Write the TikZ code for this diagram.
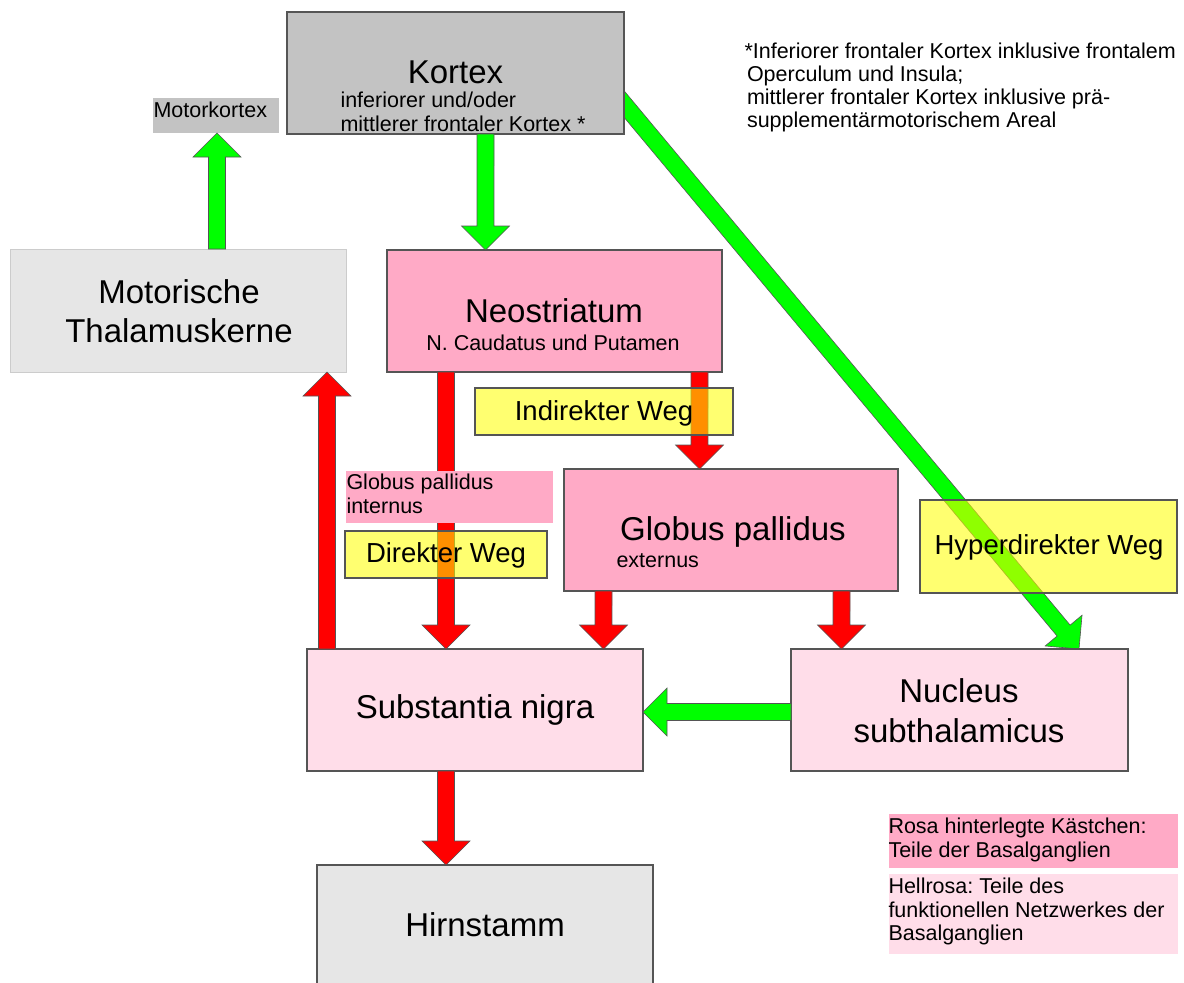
\documentclass[tikz,border=0pt]{standalone}
\usepackage{fontspec}
\setmainfont{Liberation Sans}
\usetikzlibrary{calc,backgrounds}
\definecolor{gA}{HTML}{C3C3C3}
\definecolor{gB}{HTML}{E6E6E6}
\definecolor{pk}{HTML}{FFAAC6}
\definecolor{lpk}{HTML}{FFDDE9}
\definecolor{bd}{HTML}{555555}
\definecolor{arrR}{HTML}{FF0000}
\definecolor{arrG}{HTML}{00FF00}
\definecolor{yl}{HTML}{FFFF00}
\frenchspacing
\newcommand\bigf{\fontsize{33}{40}\selectfont}
\newcommand\midf{\fontsize{27.5}{32}\selectfont}
\newcommand\smf{\fontsize{21.5}{24}\selectfont}
\newcommand\blockarrow[3]{%
 \draw[#3] ($#1!8.5pt!90:#2$) -- ($#2!25.46pt!-19.47:#1$) -- ($#2!33.94pt!-45:#1$) -- #2
   -- ($#2!33.94pt!45:#1$) -- ($#2!25.46pt!19.47:#1$) -- ($#1!8.5pt!-90:#2$) -- cycle;}
\tikzset{
 box/.style={draw=bd, line width=1.3pt, inner sep=0pt, outer sep=0pt, anchor=north west},
 plainbox/.style={inner sep=0pt, outer sep=0pt, anchor=north west},
 ylbox/.style={draw=bd, line width=1.2pt, fill=yl, fill opacity=0.56, inner sep=0pt, outer sep=0pt, anchor=north west},
 txt/.style={inner sep=0pt, outer sep=0pt, anchor=base},
 ltxt/.style={inner sep=0pt, outer sep=0pt, anchor=base west},
 redarr/.style={fill=arrR, draw=bd, line width=0.6pt},
 greenarr/.style={fill=arrG, draw=bd, line width=0.6pt},
}
\begin{document}
\begin{tikzpicture}[x=1pt,y=-1pt]
\useasboundingbox (0,0) rectangle (1184,983);
\begin{pgfonlayer}{background}
\fill[white] (0,0) rectangle (1184,983);
\end{pgfonlayer}
% main boxes
\node[box, fill=gA, minimum width=337, minimum height=122] (kortex) at (287,12) {};
\node[plainbox, fill=gA, minimum width=126, minimum height=35] (motork) at (153,98) {};
\node[box, draw=gray!40, line width=1pt, fill=gB, minimum width=336, minimum height=123] (thal) at (10,249) {};
\node[box, fill=pk, minimum width=335, minimum height=122] (neo) at (387,250) {};
\node[box, fill=pk, minimum width=334, minimum height=122] (gp) at (564,469) {};
\node[box, fill=lpk, minimum width=336, minimum height=122] (sn) at (307,649) {};
\node[box, fill=lpk, minimum width=337, minimum height=122] (stn) at (791,649) {};
\node[box, fill=gB, minimum width=336, minimum height=135] (hirn) at (317,865) {};
\node[plainbox, fill=pk, minimum width=289, minimum height=54] (leg1) at (889,814) {};
\node[plainbox, fill=lpk, minimum width=289, minimum height=80] (leg2) at (889,874) {};
% diagonal arrow behind the boxes
\coordinate (hypstart) at (600,75.2);
\begin{pgfonlayer}{background}
\blockarrow{(hypstart)}{(1079,0 |- stn.north)}{greenarr}
\end{pgfonlayer}
% arrows
\blockarrow{(217,0 |- thal.north)}{(217,0 |- motork.south)}{greenarr}
\blockarrow{(485.5,0 |- kortex.south)}{(485.5,0 |- neo.north)}{greenarr}
\blockarrow{(446,0 |- neo.south)}{(446,0 |- sn.north)}{redarr}
\blockarrow{(699.5,0 |- neo.south)}{(699.5,0 |- gp.north)}{redarr}
\blockarrow{(603.5,0 |- gp.south)}{(603.5,0 |- sn.north)}{redarr}
\blockarrow{(841.5,0 |- gp.south)}{(841.5,0 |- stn.north)}{redarr}
\blockarrow{(327,0 |- sn.north)}{(327,0 |- thal.south)}{redarr}
\blockarrow{(stn.west |- 0,712)}{(sn.east |- 0,712)}{greenarr}
\blockarrow{(446,0 |- sn.south)}{(446,0 |- hirn.north)}{redarr}
% label boxes on top
\node[ylbox, minimum width=258, minimum height=47] (indir) at (475,388) {};
\node[plainbox, fill=pk, minimum width=207, minimum height=52] (gpi) at (346,471) {};
\node[ylbox, minimum width=202, minimum height=47] (dir) at (345,531) {};
\node[ylbox, minimum width=257, minimum height=93] (hyper) at (920,500) {};
% texts
\node[txt, font=\bigf] (tk) at (455.5,83) {Kortex};
\node[ltxt, font=\smf] (tk1) at (340.5,107) {inferiorer und/oder};
\node[ltxt, font=\smf] (tk2) at (340.5,131) {mittlerer frontaler Kortex *};
\node[ltxt, font=\smf] (tmk) at (153.5,117) {Motorkortex};
\node[txt, font=\bigf] (tth1) at (179,303) {Motorische};
\node[txt, font=\bigf] (tth2) at (179,342) {Thalamuskerne};
\node[txt, font=\bigf] (tneo1) at (554,322) {Neostriatum};
\node[txt, font=\smf] (tneo2) at (553,350) {N. Caudatus und Putamen};
\node[txt, font=\midf] (tind) at (604,420) {Indirekter Weg};
\node[ltxt, font=\smf] (tgpi1) at (346.5,489) {Globus pallidus};
\node[ltxt, font=\smf] (tgpi2) at (346.5,513) {internus};
\node[txt, font=\midf] (tdir) at (446,562) {Direkter Weg};
\node[txt, font=\bigf] (tgp1) at (733,540) {Globus pallidus};
\node[ltxt, font=\smf] (tgp2) at (616.5,567) {externus};
\node[txt, font=\midf] (thyp) at (1049,554) {Hyperdirekter Weg};
\node[txt, font=\bigf] (tsn) at (475,718) {Substantia nigra};
\node[txt, font=\bigf] (tstn1) at (959,702) {Nucleus};
\node[txt, font=\bigf] (tstn2) at (959,742) {subthalamicus};
\node[txt, font=\bigf] (thirn) at (485,936) {Hirnstamm};
\node[ltxt, font=\smf] (tl1a) at (888.5,833) {Rosa hinterlegte Kästchen:};
\node[ltxt, font=\smf] (tl1b) at (888.5,857) {Teile der Basalganglien};
\node[ltxt, font=\smf] (tl2a) at (888.5,893) {Hellrosa: Teile des};
\node[ltxt, font=\smf] (tl2b) at (888.5,917) {funktionellen Netzwerkes der};
\node[ltxt, font=\smf] (tl2c) at (888.5,940) {Basalganglien};
\node[ltxt, font=\smf] (fn1) at (744.5,58) {*Inferiorer frontaler Kortex inklusive frontalem};
\node[ltxt, font=\smf] (fn2) at (747,81) {Operculum und Insula;};
\node[ltxt, font=\smf] (fn3) at (747,104) {mittlerer frontaler Kortex inklusive prä-};
\node[ltxt, font=\smf] (fn4) at (747,127) {supplementärmotorischem Areal};
\end{tikzpicture}
\end{document}
